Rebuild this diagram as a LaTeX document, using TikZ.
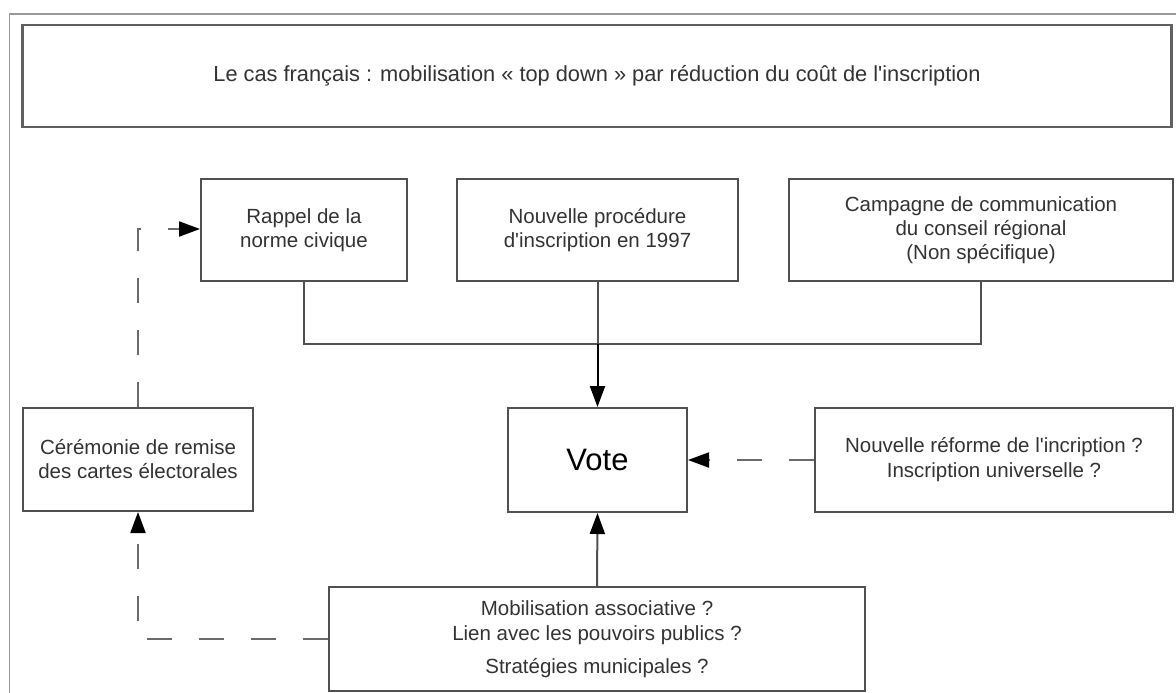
\documentclass[tikz,border=0pt]{standalone}
\usepackage{fontspec}
\setmainfont{Liberation Sans}
\usetikzlibrary{arrows.meta}
\definecolor{boxline}{HTML}{505050}
\definecolor{frameline}{HTML}{999999}
\definecolor{txt}{HTML}{333333}
\definecolor{dashcol}{HTML}{6A6A6A}
\tikzset{
  box/.style={draw=boxline, line width=2pt, inner sep=0pt, align=center,
    text=txt, font=\fontsize{20.5}{24}\selectfont},
  link/.style={draw=boxline, line width=2pt},
  tip/.style={-{Triangle[length=21pt,width=15pt,color=black]}},
  dashlink/.style={draw=dashcol, line width=2pt, dash pattern=on 25pt off 27pt},
}
\begin{document}
\begin{tikzpicture}[x=1pt,y=-1pt]
\useasboundingbox (0,0) rectangle (1176,693);
\fill[white] (0,0) rectangle (1176,693);
% outer frame
\draw[frameline, line width=1.4pt] (1176,14) -- (9.5,14) -- (9.5,693);
% nodes
\node[box, draw=gray!75!black, line width=2.4pt, minimum width=1149pt, minimum height=102pt, font=\fontsize{21.8}{25}\selectfont] (title) at (597,76)
  {Le cas français : mobilisation « top down » par réduction du coût de l\textquotesingle inscription};
\node[box, minimum width=206pt, minimum height=102pt] (rappel) at (304,230)
  {Rappel de la\\norme civique};
\node[box, minimum width=281pt, minimum height=102pt] (nouv) at (597.5,230)
  {Nouvelle procédure\\d\textquotesingle inscription en 1997};
\node[box, minimum width=384pt, minimum height=102pt] (camp) at (981,230)
  {Campagne de communication\\du conseil régional\\(Non spécifique)};
\node[box, minimum width=179pt, minimum height=104pt, font=\fontsize{31}{36}\selectfont, text=black] (vote) at (597.5,460)
  {Vote};
\node[box, minimum width=230pt, minimum height=103pt] (cer) at (138,459.5)
  {Cérémonie de remise\\des cartes électorales};
\node[box, minimum width=358pt, minimum height=104pt, font=\fontsize{20.5}{25}\selectfont] (ref) at (994,460)
  {Nouvelle réforme de l\textquotesingle incription ?\\Inscription universelle ?};
\node[box, minimum width=536pt, minimum height=104pt, font=\fontsize{20.5}{25}\selectfont] (mob) at (597,639)
  {Mobilisation associative ?\\Lien avec les pouvoirs publics ?\\[8pt]Stratégies municipales ?};
% bus
\coordinate (bus) at (597.5,344);
\draw[link] (rappel.south) |- (bus) -| (camp.south);
\draw[link] (nouv.south) -- (bus);
\draw[link, draw=black, tip] (bus) -- (vote.north);
\draw[link, tip] (mob.north) -- (vote.south);
% dashed
\draw[dashlink, tip] (ref.west) -- (vote.east);
\draw[dashlink, tip] (mob.west) -| (cer.south);
\coordinate (corner) at (138,229);
\draw[dashlink, tip] (cer.north) -- (corner) -- (rappel.west |- corner);
\end{tikzpicture}
\end{document}
